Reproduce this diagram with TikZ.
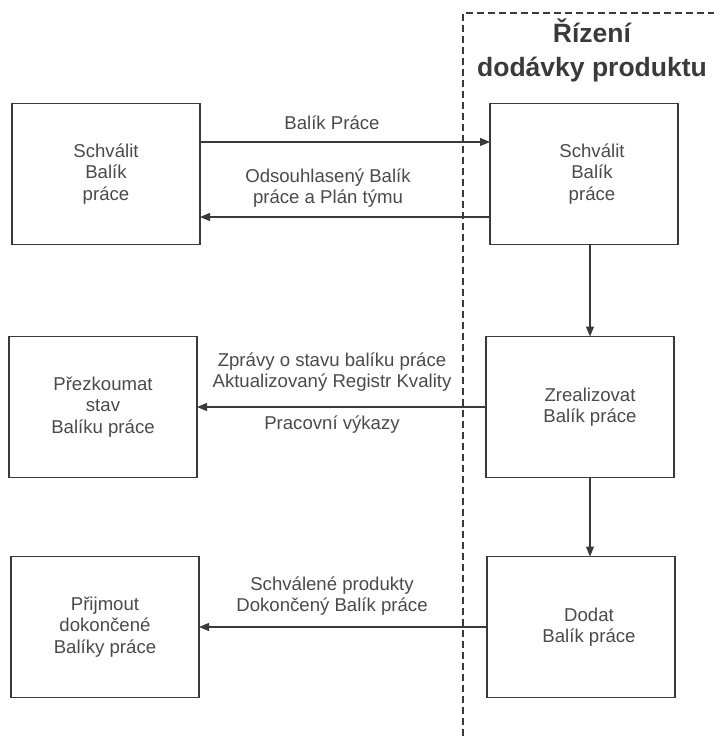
\documentclass[tikz,border=0pt]{standalone}
\usepackage{fontspec}
\setmainfont{Liberation Sans}
\usetikzlibrary{arrows.meta}
\definecolor{ink}{HTML}{3A3A3A}
\definecolor{txt}{HTML}{4A4A4A}
\begin{document}
\begin{tikzpicture}[x=1pt,y=-1pt,
  box/.style={draw=ink, line width=1.1pt, minimum width=188pt, minimum height=141pt,
    inner sep=0pt, outer sep=0pt},
  boxtext/.style={text=txt, align=center, font=\fontsize{18.6}{21.5}\selectfont},
  flow/.style={draw=ink, line width=1.1pt, -{Triangle[length=10pt,width=8pt]}},
  lbl/.style={text=txt, align=center, font=\fontsize{18.6}{21}\selectfont},
  lane/.style={draw=ink, line width=1.1pt, dash pattern=on 7pt off 4pt},
  heading/.style={text=ink, align=center, font=\bfseries\fontsize{26.5}{34}\selectfont}]

\useasboundingbox (0,0) rectangle (714,736);

% swimlane boundary of the delivery process
\coordinate (laneBottom) at (463,736);
\coordinate (laneCorner) at (463,13);
\coordinate (laneRight) at (714,13);
\draw[lane] (laneBottom) -- (laneCorner) -- (laneRight);
\node[heading] (title) at (592,50) {Řízení\\dodávky produktu};

% project manager side
\node[box, boxtext] (l1) at (106,174) {Schválit\\Balík\\práce};
\node[box, boxtext] (l2) at (103,407) {Přezkoumat\\stav\\Balíku práce};
\node[box, boxtext] (l3) at (105,627) {Přijmout\\dokončené\\Balíky práce};

% team manager side
\node[box] (r1) at (584,174) {};
\node[boxtext] (r1t) at (592,174) {Schválit\\Balík\\práce};
\node[box] (r2) at (580,407) {};
\node[boxtext] (r2t) at (590,407) {Zrealizovat\\Balík práce};
\node[box] (r3) at (581,627) {};
\node[boxtext] (r3t) at (589,627) {Dodat\\Balík práce};

% flows between the two sides
\draw[flow] ([yshift=32pt]l1.east) -- ([yshift=32pt]r1.west);
\draw[flow] ([yshift=-43pt]r1.west) -- ([yshift=-43pt]l1.east);
\draw[flow] (r2.west) -- (l2.east);
\draw[flow] (r3.west) -- (l3.east);

% flows within the delivery process
\coordinate (vx) at (590,0);
\draw[flow] (r1.south -| vx) -- (r2.north -| vx);
\draw[flow] (r2.south -| vx) -- (r3.north -| vx);

% flow labels
\node[lbl] (m1) at (332,123) {Balík Práce};
\node[lbl] (m2) at (328,188) {Odsouhlasený Balík\\práce a Plán týmu};
\node[lbl] (m3) at (332,372) {Zprávy o stavu balíku práce\\Aktualizovaný Registr Kvality};
\node[lbl] (m4) at (332,425) {Pracovní výkazy};
\node[lbl] (m5) at (332,596) {Schválené produkty\\Dokončený Balík práce};
\end{tikzpicture}
\end{document}
